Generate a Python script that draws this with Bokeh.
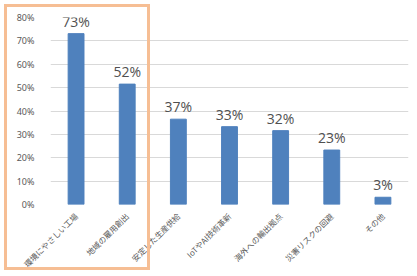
import math
from bokeh.plotting import figure
from bokeh.models import FactorRange, Range1d, NumeralTickFormatter, ColumnDataSource, FixedTicker, InlineStyleSheet
from bokeh.core.properties import value
from bokeh.embed import file_html
from bokeh.resources import INLINE

categories = ["環境にやさしい工場", "地域の雇用創出", "安定した生産供給", "IoTやAI技術革新",
              "海外への輸出拠点", "災害リスクの回避", "その他"]
values = [0.731, 0.515, 0.365, 0.333, 0.316, 0.233, 0.031]
value_labels = ["73%", "52%", "37%", "33%", "32%", "23%", "3%"]
y_ticks = [0, 0.1, 0.2, 0.3, 0.4, 0.5, 0.6, 0.7, 0.8]

src = ColumnDataSource(dict(cat=categories, val=values, lab=value_labels))

p = figure(width=417, height=276, x_range=FactorRange(*categories), y_range=Range1d(0, 0.8),
           output_backend="svg", toolbar_location=None,
           min_border_left=50, min_border_right=9, min_border_top=17, min_border_bottom=69)
p.outline_line_color = None
p.background_fill_color = "white"
p.border_fill_color = "white"

p.vbar(x="cat", top="val", width=0.31, source=src, color="#4F81BD")
p.text(x="cat", y="val", text="lab", source=src, text_align="center", text_baseline="bottom",
       y_offset=-3, text_font=value("Open Sans"), text_font_size="14px", text_color="#505050")

p.x_range.range_padding = 0
p.xaxis.major_label_orientation = math.pi / 4
p.xaxis.major_label_text_font = "Noto Sans CJK JP"
p.xaxis.major_label_text_font_size = "8px"
p.xaxis.major_label_text_color = "#595959"
p.xaxis.axis_line_color = None
p.xaxis.major_tick_line_color = None
p.xaxis.minor_tick_line_color = None
p.xaxis.major_label_standoff = 4

p.yaxis.ticker = FixedTicker(ticks=y_ticks)
p.yaxis.formatter = NumeralTickFormatter(format="0%")
p.yaxis.major_label_text_font = "Noto Sans"
p.yaxis.major_label_text_font_size = "9px"
p.yaxis.major_label_text_color = "#595959"
p.yaxis.axis_line_color = None
p.yaxis.major_tick_line_color = None
p.yaxis.minor_tick_line_color = None
p.yaxis.major_label_standoff = 10

p.xgrid.grid_line_color = None
p.ygrid.grid_line_color = "#D9D9D9"
p.ygrid.ticker = FixedTicker(ticks=y_ticks)

p.stylesheets = [InlineStyleSheet(css="""
:host::after {
  content: "";
  position: absolute;
  left: 4px; top: 4px;
  width: 140px; height: 260px;
  border: 3px solid #F6BE94;
  pointer-events: none;
}
""")]

open("out.html", "w").write(file_html(p, INLINE))
